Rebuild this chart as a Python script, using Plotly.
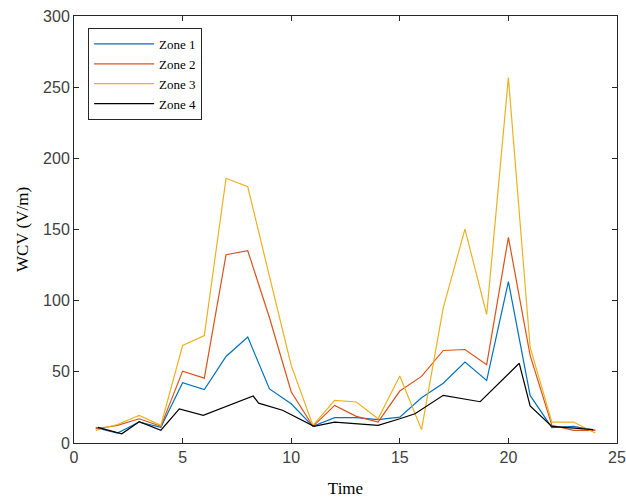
import plotly.graph_objects as go

time = list(range(1, 25))
zone1 = [10.8, 7, 14.7, 11, 42.3, 37.6, 60.8, 74.4, 38, 27.6, 11.7, 17.8,
         17.8, 16.4, 18.2, 31.8, 42, 56.8, 44, 113.4, 33.4, 10.8, 11.7, 8.9]
zone2 = [10, 12.4, 17, 11.7, 50.5, 45.6, 132.3, 135.1, 88, 36, 11.7, 26.4,
         18.7, 14.7, 36.5, 46.8, 65, 65.7, 55, 144.5, 61.5, 12.4, 8.9, 8.9]
zone3 = [8.9, 13, 19.4, 12.4, 68.5, 75.5, 186, 180, 117, 54.5, 12.4, 30,
         28.8, 17, 47, 9.4, 95, 150.3, 90.3, 256.7, 67.3, 14.7, 14.7, 7]
time4 = [1.1, 2.2, 3.0, 4.0, 4.85, 5.95, 8.25, 8.5, 9.6, 11.05, 12.0, 14.0,
         15.0, 15.7, 17.0, 18.7, 20.5, 21.0, 22.0, 23.9]
zone4 = [11, 6.5, 15, 9, 24, 19.5, 33, 28, 23, 11.7, 14.7, 12.4,
         17, 20.5, 33.5, 29, 56, 26, 11.7, 9.4]

names = ["Zone 1", "Zone 2", "Zone 3", "Zone 4"]
colors = ["#0072BD", "#D95319", "#EDB120", "#000000"]
xs = [time, time, time, time4]
ys = [zone1, zone2, zone3, zone4]

fig = go.Figure()
for n, c, x, y in zip(names, colors, xs, ys):
    fig.add_trace(go.Scatter(x=x, y=y, mode="lines", name=n,
                             line=dict(color=c, width=1.2)))

axis_common = dict(showline=True, linecolor="#262626", linewidth=1, mirror="ticks",
                   ticks="inside", ticklen=5, tickcolor="#262626", showgrid=False,
                   zeroline=False, automargin=False,
                   tickfont=dict(family="Liberation Sans, Arial", size=16, color="#404040"))

fig.update_layout(
    width=626, height=499,
    margin=dict(l=74, r=9, t=16, b=56, autoexpand=False),
    paper_bgcolor="white", plot_bgcolor="white",
    showlegend=True,
    legend=dict(x=0.026, y=0.972, xanchor="left", yanchor="top",
                bgcolor="white", bordercolor="#262626", borderwidth=1,
                font=dict(family="Liberation Serif, Times New Roman", size=13, color="#000000"),
                tracegroupgap=0, itemwidth=60),
    xaxis=dict(range=[0, 25], tickvals=[0, 5, 10, 15, 20, 25],
               title=dict(text="Time", font=dict(family="Liberation Serif, Times New Roman", size=17, color="#000"), standoff=16),
               **axis_common),
    yaxis=dict(range=[0, 300], tickvals=[0, 50, 100, 150, 200, 250, 300],
               title=dict(text="WCV (V/m)", font=dict(family="Liberation Serif, Times New Roman", size=17, color="#000"), standoff=10),
               **axis_common),
)

fig.write_html("out.html")
